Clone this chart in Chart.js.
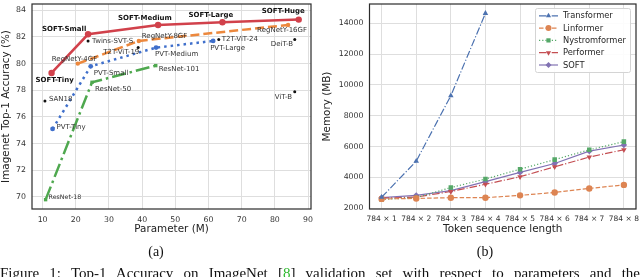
<!DOCTYPE html>
<html>
<head>
<meta charset="utf-8">
<script src="https://cdn.jsdelivr.net/npm/chart.js@4"></script>
<style>
  html, body { margin: 0; padding: 0; background: #fff; width: 640px; height: 277px; overflow: hidden; }
  #left { position: absolute; left: 0; top: 0; }
  #right { position: absolute; left: 320px; top: 0; }
  .sub { position: absolute; top: 244px; width: 40px; text-align: center;
         font: 14px/16px 'Liberation Serif', serif; color: #111; }
  #caption { position: absolute; left: 0; top: 266px; width: 640px; white-space: nowrap;
             font: 15px/15px 'Liberation Serif', serif; color: #111;
             text-align: justify; text-align-last: justify; }
  #caption .ref { color: #2db82d; }
</style>
</head>
<body>
<canvas id="left" width="320" height="245"></canvas>
<canvas id="right" width="320" height="245"></canvas>
<div class="sub" style="left:136px">(a)</div>
<div class="sub" style="left:465px">(b)</div>
<div id="caption">Figure 1: Top-1 Accuracy on ImageNet [<span class="ref">8</span>] validation set with respect to parameters and the</div>
<script>
// ---- (a) accuracy vs parameters ----
const softParams = [12.7, 23.7, 44.8, 64.2, 87.2];
const softAcc = [79.3, 82.2, 82.9, 83.1, 83.3];
const softNames = ['SOFT-Tiny', 'SOFT-Small', 'SOFT-Medium', 'SOFT-Large', 'SOFT-Huge'];
const regnetParams = [20.6, 39.0, 84.0];
const regnetAcc = [80.0, 81.7, 82.9];
const regnetNames = ['RegNetY-4GF', 'RegNetY-8GF', 'RegNetY-16GF'];
const pvtParams = [13.0, 24.5, 44.2, 61.4];
const pvtAcc = [75.1, 79.8, 81.2, 81.7];
const pvtNames = ['PVT-Tiny', 'PVT-Small', 'PVT-Medium', 'PVT-Large'];
const resnetParams = [10.9, 24.9, 44.1];
const resnetAcc = [69.8, 78.6, 79.85];
const resnetNames = ['ResNet-18', 'ResNet-50', 'ResNet-101'];
const otherParams = [10.7, 23.7, 38.8, 63.1, 86.0, 86.0];
const otherAcc = [77.2, 81.7, 81.2, 81.8, 81.8, 77.9];
const otherNames = ['SAN18', 'Twins-SVT-S', 'T2T-ViT-19', 'T2T-ViT-24', 'DeiT-B', 'ViT-B'];
const paramTicks = [10, 20, 30, 40, 50, 60, 70, 80, 90];
const accTicks = [70, 72, 74, 76, 78, 80, 82, 84];

// ---- (b) memory vs sequence length ----
const seqIndex = [1, 2, 3, 4, 5, 6, 7, 8];
const seqLabels = ['784 × 1', '784 × 2', '784 × 3', '784 × 4', '784 × 5', '784 × 6', '784 × 7', '784 × 8'];
const transformerMem = [2710, 5050, 9300, 14650];
const linformerMem = [2600, 2630, 2680, 2680, 2830, 3020, 3280, 3510];
const nystromMem = [2570, 2680, 3340, 3890, 4530, 5150, 5790, 6320];
const performerMem = [2650, 2720, 3080, 3550, 4040, 4680, 5320, 5790];
const softMem = [2680, 2830, 3140, 3720, 4320, 4900, 5700, 6100];
const memTicks = [2000, 4000, 6000, 8000, 10000, 12000, 14000];
const memSeries = ['Transformer', 'Linformer', 'Nystromformer', 'Performer', 'SOFT'];

Chart.defaults.font.family = "'DejaVu Sans', sans-serif";
Chart.defaults.color = '#333';

// label placement (pixels relative to the point)
const labelOffsets = {
  'SOFT-Tiny': [-16, 7], 'SOFT-Small': [-46, -5.5], 'SOFT-Medium': [-40, -7],
  'SOFT-Large': [-34, -7.5], 'SOFT-Huge': [-37, -8],
  'RegNetY-4GF': [-26, -4], 'RegNetY-8GF': [3, -5], 'RegNetY-16GF': [-31, 5],
  'PVT-Tiny': [4, -1.5], 'PVT-Small': [3, 7], 'PVT-Medium': [-1, 7], 'PVT-Large': [-3, 7],
  'ResNet-18': [3, -2.5], 'ResNet-50': [3, 7], 'ResNet-101': [3, 4],
  'SAN18': [4, -2], 'Twins-SVT-S': [4, 0], 'T2T-ViT-19': [-35, 5], 'T2T-ViT-24': [3, 0],
  'DeiT-B': [-24, 5], 'ViT-B': [-20, 6]
};

function pts(xs, ys) {
  return xs.map((x, i) => ({ x: x, y: ys[i] }));
}

function noPad(s) {
  s.paddingLeft = 0; s.paddingRight = 0; s.paddingTop = 0; s.paddingBottom = 0;
}

const framePlugin = {
  id: 'frame',
  afterDatasetsDraw(chart) {
    const a = chart.chartArea, ctx = chart.ctx;
    ctx.save();
    ctx.strokeStyle = '#2b2b2b';
    ctx.lineWidth = 1.2;
    ctx.strokeRect(a.left, a.top, a.right - a.left, a.bottom - a.top);
    ctx.restore();
  }
};

const pointLabels = {
  id: 'pointLabels',
  afterDatasetsDraw(chart) {
    const ctx = chart.ctx, xs = chart.scales.x, ys = chart.scales.y;
    const groups = [
      [softParams, softAcc, softNames],
      [regnetParams, regnetAcc, regnetNames],
      [pvtParams, pvtAcc, pvtNames],
      [resnetParams, resnetAcc, resnetNames],
      [otherParams, otherAcc, otherNames]
    ];
    ctx.save();
    ctx.textBaseline = 'middle';
    ctx.textAlign = 'left';
    groups.forEach(g => {
      g[2].forEach((name, i) => {
        const off = labelOffsets[name] || [3, 0];
        const bold = name.indexOf('SOFT') === 0;
        const size = name === 'ResNet-18' ? 6.3 : 7;
        ctx.font = (bold ? 'bold ' : '') + size + "px 'DejaVu Sans', sans-serif";
        ctx.fillStyle = bold ? '#111' : '#333';
        ctx.fillText(name, xs.getPixelForValue(g[0][i]) + off[0], ys.getPixelForValue(g[1][i]) + off[1]);
      });
    });
    ctx.restore();
  }
};

new Chart(document.getElementById('left'), {
  type: 'scatter',
  data: {
    datasets: [
      { data: pts(softParams, softAcc), showLine: true, borderColor: '#d1414b', backgroundColor: '#d1414b',
        borderWidth: 2.5, pointRadius: 3.2, pointBorderWidth: 0 },
      { data: pts(regnetParams, regnetAcc), showLine: true, borderColor: '#ec883d', backgroundColor: '#ec883d',
        borderWidth: 2.5, borderDash: [9, 4], pointRadius: 2.2, pointBorderWidth: 0 },
      { data: pts(pvtParams, pvtAcc), showLine: true, borderColor: '#3f6fcb', backgroundColor: '#3f6fcb',
        borderWidth: 2.5, borderDash: [2.5, 4], pointRadius: 2.4, pointBorderWidth: 0 },
      { data: pts(resnetParams, resnetAcc), showLine: true, borderColor: '#4fa84f', backgroundColor: '#4fa84f',
        borderWidth: 2.5, borderDash: [14, 4, 2.5, 4], pointStyle: 'rect', pointRadius: 2.4, pointBorderWidth: 0 },
      { data: pts(otherParams, otherAcc), showLine: false, backgroundColor: '#111', borderColor: '#111',
        pointRadius: 1.5, pointBorderWidth: 0 }
    ]
  },
  options: {
    responsive: false,
    animation: false,
    layout: { padding: { top: 3, right: 9, left: 0, bottom: 0 } },
    plugins: { legend: { display: false }, tooltip: { enabled: false } },
    elements: { line: { tension: 0 } },
    scales: {
      x: {
        type: 'linear', min: 6.8, max: 90.9,
        afterBuildTicks: s => { s.ticks = paramTicks.map(v => ({ value: v })); },
        afterFit: s => { s.height = 36; noPad(s); },
        grid: { color: '#dedede', lineWidth: 1, drawTicks: false },
        border: { display: false },
        ticks: { padding: 6, maxRotation: 0, font: { size: 7.8 }, color: '#333' },
        title: { display: true, text: 'Parameter (M)', font: { size: 10.4 }, color: '#222', padding: { top: 0, bottom: 9 } }
      },
      y: {
        type: 'linear', min: 69.1, max: 84.47,
        afterBuildTicks: s => { s.ticks = accTicks.map(v => ({ value: v })); },
        afterFit: s => { s.width = 32; noPad(s); },
        grid: { color: '#dedede', lineWidth: 1, drawTicks: false },
        border: { display: false },
        ticks: { padding: 6, font: { size: 7.8 }, color: '#333' },
        title: { display: true, text: 'Imagenet Top-1 Accuracy (%)', font: { size: 10.4 }, color: '#222', padding: { top: 0, bottom: 0 } }
      }
    }
  },
  plugins: [framePlugin, pointLabels]
});

const memColors = ['#4c72b0', '#dd8452', '#55a868', '#c44e52', '#8172b3'];
const memDash = [[7.5, 2, 1.2, 2], [4.5, 2], [1.2, 2], [7.5, 2, 1.2, 2], []];
const memStyle = ['triangle', 'circle', 'rect', 'triangle', 'rectRot'];
const memRotation = [0, 0, 0, 180, 0];
const memData = [transformerMem, linformerMem, nystromMem, performerMem, softMem];

const memLegend = {
  id: 'memLegend',
  afterDraw(chart) {
    const ctx = chart.ctx, a = chart.chartArea;
    const w = 95, h = 64, x0 = a.right - 6 - w, y0 = a.top + 4;
    ctx.save();
    ctx.fillStyle = 'rgba(255,255,255,0.9)';
    ctx.strokeStyle = '#d4d4d4';
    ctx.lineWidth = 1;
    ctx.beginPath();
    ctx.roundRect(x0 + 0.5, y0 + 0.5, w, h, 2);
    ctx.fill();
    ctx.stroke();
    memSeries.forEach((name, i) => {
      const y = y0 + 7.8 + i * 12.3;
      ctx.strokeStyle = memColors[i];
      ctx.fillStyle = memColors[i];
      ctx.lineWidth = 1.2;
      ctx.setLineDash(memDash[i]);
      ctx.beginPath();
      ctx.moveTo(x0 + 4, y);
      ctx.lineTo(x0 + 23, y);
      ctx.stroke();
      ctx.setLineDash([]);
      Chart.helpers.drawPoint(ctx, { pointStyle: memStyle[i], rotation: memRotation[i], radius: 3, borderWidth: 0 }, x0 + 13.5, y);
      ctx.fillStyle = '#262626';
      ctx.font = "8.3px 'DejaVu Sans', sans-serif";
      ctx.textBaseline = 'middle';
      ctx.textAlign = 'left';
      ctx.fillText(name, x0 + 28, y + 0.5);
    });
    ctx.restore();
  }
};

new Chart(document.getElementById('right'), {
  type: 'scatter',
  data: {
    datasets: memData.map((vals, i) => ({
      label: memSeries[i],
      data: pts(seqIndex.slice(0, vals.length), vals),
      showLine: true,
      borderColor: memColors[i],
      backgroundColor: memColors[i],
      borderWidth: 1.2,
      borderDash: memDash[i],
      pointStyle: memStyle[i],
      pointRotation: memRotation[i],
      pointRadius: 3.2,
      pointBorderWidth: 0
    }))
  },
  options: {
    responsive: false,
    animation: false,
    layout: { padding: { top: 0, right: 1, left: 0, bottom: 0 } },
    plugins: { legend: { display: false }, tooltip: { enabled: false } },
    elements: { line: { tension: 0 } },
    scales: {
      x: {
        type: 'linear', min: 0.65, max: 8.35,
        afterBuildTicks: s => { s.ticks = seqIndex.map(v => ({ value: v })); },
        afterFit: s => { s.height = 36; noPad(s); },
        grid: { color: '#dedede', lineWidth: 1, drawTicks: false },
        border: { display: false },
        ticks: { padding: 6, maxRotation: 0, autoSkip: false, font: { size: 7.5 }, color: '#333',
                 callback: v => seqLabels[v - 1] },
        title: { display: true, text: 'Token sequence length', font: { size: 10.4 }, color: '#222', padding: { top: 0, bottom: 9 } }
      },
      y: {
        type: 'linear', min: 1945, max: 15255,
        afterBuildTicks: s => { s.ticks = memTicks.map(v => ({ value: v })); },
        afterFit: s => { s.width = 49.5; noPad(s); },
        grid: { color: '#dedede', lineWidth: 1, drawTicks: false },
        border: { display: false },
        ticks: { padding: 6, font: { size: 7.8 }, color: '#333', callback: v => String(v) },
        title: { display: true, text: 'Memory (MB)', font: { size: 10.4 }, color: '#222', padding: { top: 1, bottom: 0 } }
      }
    }
  },
  plugins: [framePlugin, memLegend]
});
</script>
</body>
</html>
